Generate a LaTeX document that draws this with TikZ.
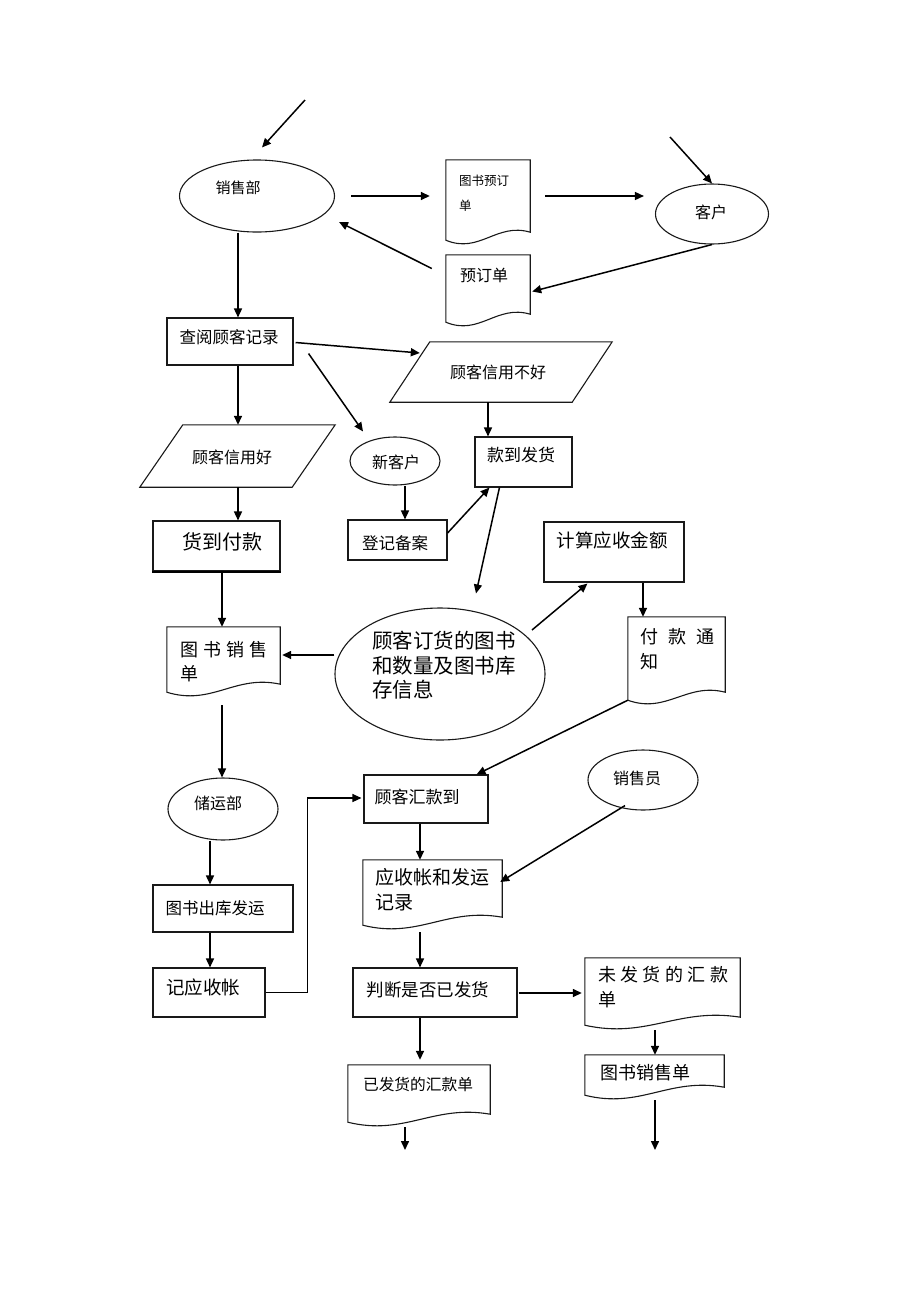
\documentclass[tikz,border=0pt]{standalone}
\usepackage{fontspec}
\newfontfamily\cjk{Noto Sans CJK SC}
\usetikzlibrary{arrows.meta,calc,shapes.geometric}
\newcommand\gp[1]{\hspace{#1pt}}
\newcommand\fsz[2]{\fontsize{#1}{#2}\selectfont}
\newcommand\docshape[1]{\draw[box] (#1.north west) -- (#1.north east) -- ([yshift=8pt]#1.south east) .. controls ($(#1.south west)!0.6!(#1.south east)+(0,-18)$) and ($(#1.south west)!0.4!(#1.south east)+(0,14)$) .. (#1.south west) -- cycle;}
\newcommand\parashape[2]{\draw[box] ($(#1.north west)+(#2,0)$) -- (#1.north east) -- ($(#1.south east)+(-#2,0)$) -- (#1.south west) -- cycle;}
\begin{document}
\begin{tikzpicture}[x=1pt,y=-1pt,
  box/.style={draw=black!90, line width=1.1pt},
  rbox/.style={box, rectangle, inner sep=0pt},
  ell/.style={box, ellipse, inner sep=0pt},
  hid/.style={rectangle, inner sep=0pt, draw=none},
  arr/.style={draw=black, line width=1.5pt, -{Triangle[length=9pt,width=8pt]}},
  txt/.style={inner sep=0pt, text=black, align=left}]
\useasboundingbox[fill=white] (0,0) rectangle (920,1302);

% shapes
\node[ell, minimum width=155pt, minimum height=72pt] (xsb) at (257,196) {};
\node[hid, minimum width=84pt, minimum height=80pt] (tsyd) at (488,200) {};
\node[ell, minimum width=113pt, minimum height=60pt] (kh) at (712,214) {};
\node[hid, minimum width=84pt, minimum height=67pt] (ydd) at (488,288.5) {};
\node[rbox, minimum width=126pt, minimum height=47pt] (cygk) at (230,341.5) {};
\node[hid, minimum width=222pt, minimum height=60pt] (xybh) at (501,372) {};
\node[ell, minimum width=90pt, minimum height=48pt] (xkh) at (395,461) {};
\node[hid, minimum width=195pt, minimum height=62pt] (xyh) at (237.5,456) {};
\node[rbox, minimum width=97pt, minimum height=50pt] (kdfh) at (523.5,462) {};
\node[rbox, minimum width=99pt, minimum height=40pt] (djba) at (397.5,540) {};
\node[rbox, minimum width=127pt, minimum height=50pt] (hdfk) at (216.5,546) {};
\node[hid, minimum width=113pt, minimum height=65pt] (tsxsd) at (223.5,659.5) {};
\node[ell, minimum width=210pt, minimum height=132pt] (gkdh) at (440,674) {};
\node[rbox, minimum width=140pt, minimum height=60pt] (jsys) at (614,552) {};
\node[hid, minimum width=97pt, minimum height=83pt] (fktz) at (676.5,658.5) {};
\node[rbox, minimum width=124pt, minimum height=48pt] (gkhk) at (426,799) {};
\node[ell, minimum width=110pt, minimum height=62pt] (cyb) at (223,809) {};
\node[ell, minimum width=110pt, minimum height=60pt] (xsy) at (643,780) {};
\node[rbox, minimum width=140pt, minimum height=47pt] (tsck) at (223,908.5) {};
\node[rbox, minimum width=112pt, minimum height=49pt] (jysz) at (209,992.5) {};
\node[hid, minimum width=139pt, minimum height=65pt] (yszfy) at (432.5,892.5) {};
\node[rbox, minimum width=164pt, minimum height=49pt] (pdsf) at (435,992.5) {};
\node[hid, minimum width=155pt, minimum height=67pt] (wfh) at (662.5,991.5) {};
\node[hid, minimum width=142pt, minimum height=57pt] (yfh) at (419,1093.5) {};
\node[hid, minimum width=139pt, minimum height=40pt] (tsxsd2) at (654.5,1075) {};

\draw[line width=2pt] (hdfk.south west) -- (hdfk.south east);

\docshape{tsyd}
\docshape{ydd}
\docshape{tsxsd}
\docshape{fktz}
\docshape{yszfy}
\docshape{wfh}
\docshape{yfh}
\docshape{tsxsd2}
\parashape{xybh}{40}
\parashape{xyh}{43}

% texts
\node[txt, font={\cjk\fsz{15}{18}}] (t-xsb) at (238,188) {销售部};
\node[txt, font={\cjk\fsz{12.5}{25}}, anchor=north west] (t-tsyd) at (459,175) {图书预订\\单};
\node[txt, font={\cjk\fsz{16}{20}}] (t-kh) at (711,212) {客户};
\node[txt, font={\cjk\fsz{16}{20}}] (t-ydd) at (484,275) {预订单};
\node[txt, font={\cjk\fsz{16.5}{20}}] (t-cygk) at (229,337) {查阅顾客记录};
\node[txt, font={\cjk\fsz{16}{20}}] (t-xybh) at (498,372) {顾客信用不好};
\node[txt, font={\cjk\fsz{16}{20}}] (t-xkh) at (396,462) {新客户};
\node[txt, font={\cjk\fsz{16}{20}}] (t-xyh) at (232,457) {顾客信用好};
\node[txt, font={\cjk\fsz{17}{20}}] (t-kdfh) at (521,455) {款到发货};
\node[txt, font={\cjk\fsz{16.5}{20}}] (t-djba) at (395,543) {登记备案};
\node[txt, font={\cjk\fsz{20}{24}}] (t-hdfk) at (222,542) {货到付款};
\node[txt, font={\cjk\fsz{18}{24}}, anchor=north west] (t-tsxsd) at (180,641) {图\gp{5}书\gp{5}销\gp{5}售\\单};
\node[txt, font={\cjk\fsz{20.5}{24.5}}, anchor=north west] (t-gkdh) at (372,631) {顾客订货的图书\\和数量及图书库\\存信息};
\node[txt, font={\cjk\fsz{18.5}{22}}] (t-jsys) at (612,540) {计算应收金额};
\node[txt, font={\cjk\fsz{18}{25}}, anchor=north west] (t-fktz) at (640,628) {付\gp{10}款\gp{10}通\\知};
\node[txt, font={\cjk\fsz{17}{20}}] (t-gkhk) at (417,797) {顾客汇款到};
\node[txt, font={\cjk\fsz{16}{20}}] (t-cyb) at (218,803) {储运部};
\node[txt, font={\cjk\fsz{16}{20}}] (t-xsy) at (637,778) {销售员};
\node[txt, font={\cjk\fsz{16.5}{20}}] (t-tsck) at (215,908) {图书出库发运};
\node[txt, font={\cjk\fsz{18.5}{22}}] (t-jysz) at (203,987) {记应收帐};
\node[txt, font={\cjk\fsz{19}{25}}, anchor=north west] (t-yszfy) at (375,868) {应收帐和发运\\记录};
\node[txt, font={\cjk\fsz{17.5}{20}}] (t-pdsf) at (428,990) {判断是否已发货};
\node[txt, font={\cjk\fsz{18}{25}}, anchor=north west] (t-wfh) at (598,966) {未\gp{4.4}发\gp{4.4}货\gp{4.4}的\gp{4.4}汇\gp{4.4}款\\单};
\node[txt, font={\cjk\fsz{15.7}{20}}] (t-yfh) at (418,1085) {已发货的汇款单};
\node[txt, font={\cjk\fsz{18}{22}}] (t-tsxsd2) at (645,1073) {图书销售单};

% free ends
\coordinate (in1) at (305,100);
\coordinate (in2) at (670,137);
\coordinate (out1) at (405,1150);
\coordinate (out2) at (655,1150);

% connectors
\draw[arr] (in1) -- ($(xsb.north)+(5,-12)$);
\draw[arr] ($(xsb.east)+(16,0)$) -- ($(tsyd.west)+(-16,-4)$);
\draw[arr] ($(tsyd.east)+(15,-4)$) -- ($(kh.west)+(-11,-18)$);
\draw[arr] (in2) -- (kh.north);
\draw[arr] (kh.south) -- ($(ydd.east)+(2,3)$);
\draw[arr] ($(ydd.west)+(-14,-20)$) -- ($(xsb.east)+(4,26)$);
\draw[arr] ($(xsb.south)+(-19,0)$) -- ($(cygk.north)+(8,0)$);
\draw[arr] ($(cygk.east)+(2,1)$) -- ($(xybh.west)+(30,-19)$);
\draw[arr] ($(cygk.south east)+(15,-12)$) -- ($(xkh.north)+(-32,-5)$);
\draw[arr] ($(cygk.south)+(8,0)$) -- ($(xyh.north)+(0.5,0)$);
\draw[arr] ($(xybh.south)+(-13,0)$) -- ($(kdfh.north)+(-35.5,0)$);
\draw[arr] ($(xkh.south)+(10,0)$) -- ($(djba.north)+(7.5,0)$);
\draw[arr] ($(djba.east)+(0,-7)$) -- ($(kdfh.south west)+(15,0)$);
\draw[arr] ($(kdfh.south west)+(25,0)$) -- ($(gkdh.north)+(36,-14)$);
\draw[arr] ($(xyh.south)+(0.5,0)$) -- ($(hdfk.north)+(21.5,0)$);
\draw[arr] ($(hdfk.south)+(5.5,0)$) -- ($(tsxsd.north)+(-1.5,0)$);
\draw[arr] ($(gkdh.west)+(0,-19)$) -- ($(tsxsd.east)+(2,-4.5)$);
\draw[arr] ($(gkdh.center)+(92,-44)$) -- ($(jsys.south west)+(44,1)$);
\draw[arr] ($(jsys.south)+(29,0)$) -- ($(fktz.north)+(-33.5,0)$);
\draw[arr] (fktz.south west) -- ($(gkhk.north east)+(-12,0)$);
\draw[arr] ($(tsxsd.south)+(-1.5,13)$) -- ($(cyb.north)+(-1,0)$);
\draw[arr] ($(cyb.south)+(-13,0)$) -- ($(tsck.north)+(-13,0)$);
\draw[arr] ($(tsck.south)+(-13,0)$) -- ($(jysz.north)+(1,0)$);
\draw[arr, line width=1.1pt] (jysz.east) -- ++(42,0) |- ($(gkhk.west)+(-2,-1)$);
\draw[arr] ($(xsy.south)+(-18,-5)$) -- ($(yszfy.east)+(-2,-10.5)$);
\draw[arr] ($(gkhk.south)+(-6,0)$) -- ($(yszfy.north)+(-12.5,0)$);
\draw[arr] ($(yszfy.south)+(-12.5,7)$) -- ($(pdsf.north)+(-15,0)$);
\draw[arr] ($(pdsf.east)+(1,0.5)$) -- ($(wfh.west)+(-3,1.5)$);
\draw[arr] ($(pdsf.south)+(-15,0)$) -- ($(yfh.north)+(1,-5)$);
\draw[arr] ($(yfh.south)+(-14,5)$) -- (out1);
\draw[arr] ($(wfh.south)+(-7.5,5)$) -- ($(tsxsd2.north)+(0.5,0)$);
\draw[arr] ($(tsxsd2.south)+(0.5,5)$) -- (out2);
\end{tikzpicture}
\end{document}
